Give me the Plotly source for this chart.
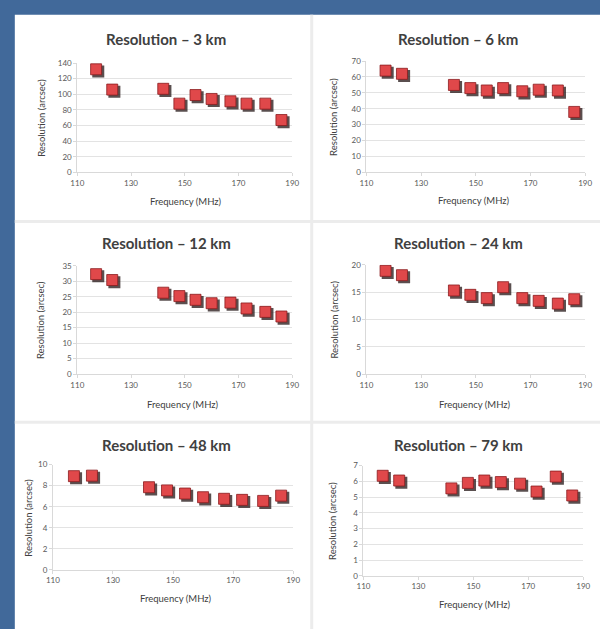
import plotly.graph_objects as go

# Observing frequencies (MHz), shared by all six baselines
freq = [117, 123, 142, 148, 154, 160, 167, 173, 180, 186]

# Resolution (arcsec) per baseline length
res_3km = [132, 106, 107, 88, 99, 94, 91, 88, 88, 67]
res_6km = [64, 62, 55, 53, 51.5, 53, 51, 52, 51.5, 38]
res_12km = [32.3, 30.4, 26.3, 25.2, 24.0, 22.9, 23.1, 21.2, 20.1, 18.6]
res_24km = [18.9, 18.1, 15.3, 14.5, 13.9, 15.9, 13.9, 13.4, 12.9, 13.7]
res_48km = [8.9, 8.95, 7.85, 7.55, 7.25, 6.9, 6.75, 6.65, 6.55, 7.05]
res_79km = [6.35, 6.05, 5.55, 5.9, 6.05, 5.95, 5.85, 5.35, 6.3, 5.1]

titles = ["Resolution \u2013 3 km", "Resolution \u2013 6 km", "Resolution \u2013 12 km",
          "Resolution \u2013 24 km", "Resolution \u2013 48 km", "Resolution \u2013 79 km"]
series = [res_3km, res_6km, res_12km, res_24km, res_48km, res_79km]
y_max = [140, 70, 35, 20, 10, 7]
y_step = [20, 10, 5, 5, 2, 1]
x_ticks = [110, 130, 150, 170, 190]

W, H = 600, 629

# Plot-area boxes in pixels: (left, right, top, bottom)
boxes = [
    (72, 292, 59, 170),
    (368, 592, 57, 170),
    (72, 292, 265, 375),
    (368, 592, 264, 375),
    (47, 293, 467, 574),
    (365, 590, 468, 580),
]
# Title centre, y-title x, x-title centre
title_pos = [(163, 35), (462, 35), (163, 242), (462, 242), (163, 447), (462, 447)]
ytitle_x = [35, 335, 35, 335, 22, 333]
xtitle_pos = [(183, 200), (478, 199), (180, 406), (479, 406), (173, 603), (479, 609)]

FONT = "Lato"
SHADOW_PX = 2.2

fig = go.Figure()
layout = {}
annotations = []

for i in range(6):
    l, r, t, b = boxes[i]
    xd = [l / W, r / W]
    yd = [1 - b / H, 1 - t / H]
    base = i + 1          # hidden axes carrying the drop shadow
    top = i + 7           # visible axes carrying the markers
    dx = SHADOW_PX * 80 / (r - l)
    dy = SHADOW_PX * y_max[i] / (b - t)

    layout[f"xaxis{base}"] = dict(domain=xd, range=[110 - dx, 190 - dx], anchor=f"y{base}",
                                  visible=False, fixedrange=True)
    layout[f"yaxis{base}"] = dict(domain=yd, range=[0 + dy, y_max[i] + dy], anchor=f"x{base}",
                                  visible=False, fixedrange=True)
    layout[f"xaxis{top}"] = dict(
        domain=xd, range=[110, 190], anchor=f"y{top}", overlaying=f"x{base}",
        tickvals=x_ticks, ticktext=[str(v) for v in x_ticks],
        showgrid=False, showline=True, linecolor="#d9d9d9", linewidth=1,
        ticks="outside", ticklen=3, tickcolor="#d9d9d9",
        tickfont=dict(family=FONT, size=8, color="#595959"), fixedrange=True,
    )
    layout[f"yaxis{top}"] = dict(
        domain=yd, range=[0, y_max[i]], anchor=f"x{top}", overlaying=f"y{base}",
        tickvals=list(range(0, y_max[i] + 1, y_step[i])),
        showgrid=True, gridcolor="#e3e3e3", gridwidth=1,
        showline=True, linecolor="#d9d9d9", linewidth=1,
        ticks="outside", ticklen=3, tickcolor="#d9d9d9",
        tickfont=dict(family=FONT, size=8, color="#595959"),
        zeroline=False, fixedrange=True,
    )

    fig.add_trace(go.Scatter(
        x=freq, y=series[i], mode="markers", xaxis=f"x{base}", yaxis=f"y{base}",
        marker=dict(symbol="square", size=12, color="rgba(35,20,20,0.75)", line=dict(width=0)),
        showlegend=False, hoverinfo="skip",
    ))
    fig.add_trace(go.Scatter(
        x=freq, y=series[i], mode="markers", xaxis=f"x{top}", yaxis=f"y{top}",
        marker=dict(symbol="square", size=11, color="#e0484a",
                    line=dict(width=0.8, color="#8a1c1e")),
        showlegend=False,
    ))

    tx, ty = title_pos[i]
    annotations.append(dict(text=f"<b>{titles[i]}</b>", x=tx / W, y=1 - ty / H, xref="paper",
                            yref="paper", showarrow=False, xanchor="center", yanchor="middle",
                            font=dict(family=FONT, size=15, color="#404040")))
    annotations.append(dict(text="Resolution (arcsec)", x=ytitle_x[i] / W, y=1 - (t + b) / 2 / H,
                            xref="paper", yref="paper", showarrow=False, textangle=-90,
                            xanchor="center", yanchor="middle",
                            font=dict(family=FONT, size=9.5, color="#404040")))
    xx, xy = xtitle_pos[i]
    annotations.append(dict(text="Frequency (MHz)", x=xx / W, y=1 - xy / H, xref="paper",
                            yref="paper", showarrow=False, xanchor="center", yanchor="middle",
                            font=dict(family=FONT, size=9.5, color="#404040")))

shapes = [
    # white sheet holding the six panels, running off the right and bottom edges
    dict(type="rect", xref="paper", yref="paper", x0=8 / W, x1=1.1, y0=-0.1, y1=1 - 10 / H,
         fillcolor="white", line=dict(width=0), layer="below"),
    # panel separators
    dict(type="line", xref="paper", yref="paper", x0=312 / W, x1=312 / W, y0=-0.1, y1=1 - 10 / H,
         line=dict(color="#ececec", width=3), layer="below"),
    dict(type="line", xref="paper", yref="paper", x0=8 / W, x1=1.1, y0=1 - 220 / H, y1=1 - 220 / H,
         line=dict(color="#ececec", width=3), layer="below"),
    dict(type="line", xref="paper", yref="paper", x0=8 / W, x1=1.1, y0=1 - 424 / H, y1=1 - 424 / H,
         line=dict(color="#ececec", width=3), layer="below"),
]

fig.update_layout(
    width=W, height=H, margin=dict(l=0, r=0, t=0, b=0),
    paper_bgcolor="#41699a", plot_bgcolor="rgba(0,0,0,0)",
    annotations=annotations, shapes=shapes, **layout,
)

fig.write_html("out.html", config={"displayModeBar": False})
